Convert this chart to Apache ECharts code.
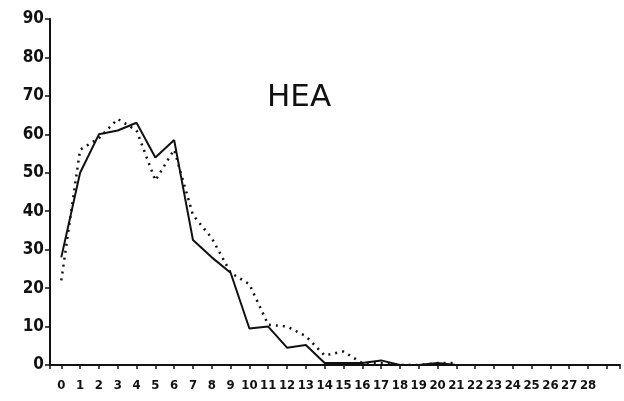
<!DOCTYPE html>
<html>
<head>
<meta charset="utf-8">
<script src="https://cdn.jsdelivr.net/npm/echarts@6/dist/echarts.min.js"></script>
<style>
  html, body { margin: 0; padding: 0; background: #fff; }
  #chart { width: 624px; height: 401px; }
</style>
</head>
<body>
<div id="chart"></div>
<script>
// x positions (0..21) and the two curves
const xLabels = ['0','1','2','3','4','5','6','7','8','9','10','11','12','13','14',
  '15','16','17','18','19','20','21','22','23','24','25','26','27','28'];
const solidValues = [28, 50, 60, 61, 63, 54, 58.5, 32.5, 28, 24, 9.5, 10, 4.5, 5.2,
  0.5, 0.5, 0.5, 1.2, 0, 0, 0.5, 0];
const dottedValues = [22, 56, 59, 64, 61, 48, 56, 39, 33, 24, 21, 10.5, 10, 7.5,
  2.5, 3.5, 0.5, 0.5, 0, 0, 0.5, 0.5];
const yTicks = [0, 10, 20, 30, 40, 50, 60, 70, 80, 90];

const chart = echarts.init(document.getElementById('chart'));

const labelFont = {
  fontFamily: '"DejaVu Sans Condensed", "Liberation Sans Narrow", sans-serif',
  fontWeight: 'bold',
  color: '#111'
};

chart.setOption({
  backgroundColor: '#fff',
  animation: false,
  title: {
    text: 'HEA',
    left: 262,
    top: 77,
    textStyle: {
      fontFamily: 'DejaVu Sans',
      fontWeight: 'normal',
      fontSize: 31,
      color: '#111'
    }
  },
  grid: { left: 50, right: 4, top: 19, bottom: 36 },
  xAxis: {
    type: 'value',
    min: -0.6,
    max: 29.7,
    minInterval: 1,
    maxInterval: 1,
    splitLine: { show: false },
    axisLine: { onZero: false, lineStyle: { color: '#111', width: 2 } },
    axisTick: { length: 4, lineStyle: { color: '#111', width: 1.5 } },
    axisLabel: Object.assign({
      fontSize: 13,
      margin: 14,
      showMinLabel: true,
      showMaxLabel: true,
      formatter: v => (Number.isInteger(v) && xLabels[v] !== undefined) ? xLabels[v] : ''
    }, labelFont)
  },
  yAxis: {
    type: 'value',
    min: yTicks[0],
    max: yTicks[yTicks.length - 1],
    interval: 10,
    splitLine: { show: false },
    axisLine: { show: true, onZero: false, lineStyle: { color: '#111', width: 2 } },
    axisTick: { show: true, length: 5, lineStyle: { color: '#111', width: 1.5 } },
    axisLabel: Object.assign({ fontSize: 17, margin: 6 }, labelFont)
  },
  series: [
    {
      name: 'solid',
      type: 'line',
      symbol: 'none',
      data: solidValues.map((v, i) => [i, v]),
      lineStyle: { color: '#111', width: 2 }
    },
    {
      name: 'dotted',
      type: 'line',
      symbol: 'none',
      data: dottedValues.map((v, i) => [i, v]),
      lineStyle: { color: '#111', width: 2.5, type: [2, 5] }
    }
  ]
});
</script>
</body>
</html>
